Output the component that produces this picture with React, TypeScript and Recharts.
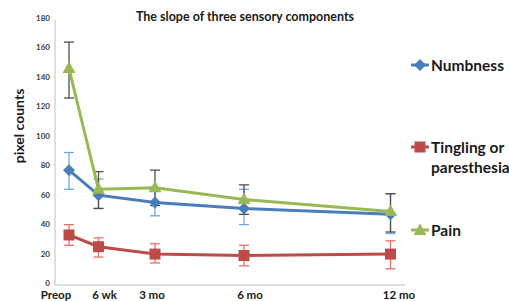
import React from 'react';
import { LineChart, Line, XAxis, YAxis, ErrorBar } from 'recharts';

const categories = ['Preop', '6 wk', '3 mo', '6 mo', '12 mo'];
// position of each time point along the (unevenly spaced) time axis
const timePos = [14, 43.5, 100, 189, 335.5];
// position of each category label along the time axis
const labelPos = [1, 49.5, 97, 195, 344];

const numbness = [78, 61, 56, 52, 48];
const numbnessLow = [65, 52, 47, 41, 35];
const numbnessHigh = [90, 72, 66, 65, 62];

const tingling = [34, 26, 21, 20, 21];
const tinglingLow = [27, 19, 15, 13, 11];
const tinglingHigh = [41, 32, 28, 27, 30];

const pain = [147, 65, 66, 58, 50];
const painLow = [127, 52, 54, 48, 36];
const painHigh = [165, 77, 78, 68, 62];

const yTicks = [0, 20, 40, 60, 80, 100, 120, 140, 160, 180];

const BLUE = '#4A7EBB';
const RED = '#BE4B48';
const GREEN = '#98B954';

const data = categories.map((c, i) => ({
  name: c,
  x: timePos[i],
  numb: numbness[i],
  numbErr: [numbness[i] - numbnessLow[i], numbnessHigh[i] - numbness[i]],
  ting: tingling[i],
  tingErr: [tingling[i] - tinglingLow[i], tinglingHigh[i] - tingling[i]],
  pain: pain[i],
  painErr: [pain[i] - painLow[i], painHigh[i] - pain[i]],
}));

const FONT = 'Lato, "Open Sans", sans-serif';

const Diamond = (props: any) => {
  const { cx, cy } = props;
  if (cx == null || cy == null) return null;
  const r = 6;
  return <polygon points={`${cx},${cy - r} ${cx + r},${cy} ${cx},${cy + r} ${cx - r},${cy}`} fill={BLUE} />;
};
const Square = (props: any) => {
  const { cx, cy } = props;
  if (cx == null || cy == null) return null;
  const r = 5.5;
  return <rect x={cx - r} y={cy - r} width={2 * r} height={2 * r} fill={RED} />;
};
const Triangle = (props: any) => {
  const { cx, cy } = props;
  if (cx == null || cy == null) return null;
  return <polygon points={`${cx},${cy - 7} ${cx + 6.5},${cy + 4.5} ${cx - 6.5},${cy + 4.5}`} fill={GREEN} />;
};

const XTick = (props: any) => {
  const { x, payload } = props;
  const idx = labelPos.indexOf(payload.value);
  return (
    <text x={x} y={298.5} textAnchor="middle" fontFamily={FONT} fontWeight={700} fontSize={11.5} fill="#1a1a1a">
      {idx >= 0 ? categories[idx] : ''}
    </text>
  );
};
const YTick = (props: any) => {
  const { y, payload } = props;
  return (
    <text x={50} y={y - 2} textAnchor="end" dominantBaseline="central" fontFamily={FONT} fontWeight={700} fontSize={8} fill="#404040">
      {payload.value}
    </text>
  );
};

const LegendItem = ({ top, color, shape, lines }: { top: number; color: string; shape: string; lines: string[] }) => (
  <div style={{ position: 'absolute', left: 410, top, display: 'flex', alignItems: 'flex-start' }}>
    <svg width={20} height={16} style={{ marginTop: 2 }}>
      <line x1={1} y1={8} x2={19} y2={8} stroke={color} strokeWidth={3} />
      {shape === 'diamond' && <polygon points="10,2 16,8 10,14 4,8" fill={color} />}
      {shape === 'square' && <rect x={4.5} y={2.5} width={11} height={11} fill={color} />}
      {shape === 'triangle' && <polygon points="10,1.5 16.5,13 3.5,13" fill={color} />}
    </svg>
    <div style={{ fontFamily: FONT, fontWeight: 700, fontSize: 15.5, lineHeight: '20px', color: '#1a1a1a', marginLeft: 1, whiteSpace: 'nowrap' }}>
      {lines.map((l) => (
        <div key={l}>{l}</div>
      ))}
    </div>
  </div>
);

export default function App() {
  return (
    <div style={{ position: 'absolute', left: 0, top: 0, width: 509, height: 301, background: '#fff', overflow: 'hidden' }}>
      <LineChart width={509} height={301} data={data} margin={{ top: 20, right: 104, left: 35, bottom: 0 }}>
        <XAxis
          type="number"
          dataKey="x"
          domain={[0, 350]}
          ticks={labelPos}
          tick={<XTick />}
          tickLine={false}
          axisLine={{ stroke: '#bfbfbf', strokeWidth: 1 }}
          height={16}
          interval={0}
        />
        <YAxis
          domain={[0, 180]}
          ticks={yTicks}
          tick={<YTick />}
          tickLine={false}
          axisLine={{ stroke: '#bfbfbf', strokeWidth: 1 }}
          width={20}
          interval={0}
        />
        <Line dataKey="numb" stroke={BLUE} strokeWidth={3} dot={<Diamond />} isAnimationActive={false}>
          <ErrorBar dataKey="numbErr" width={5} stroke="#6FA8DC" strokeWidth={1.3} direction="y" />
        </Line>
        <Line dataKey="ting" stroke={RED} strokeWidth={3} dot={<Square />} isAnimationActive={false}>
          <ErrorBar dataKey="tingErr" width={5} stroke="#E8706A" strokeWidth={1.3} direction="y" />
        </Line>
        <Line dataKey="pain" stroke={GREEN} strokeWidth={3} dot={<Triangle />} isAnimationActive={false}>
          <ErrorBar dataKey="painErr" width={5} stroke="#505050" strokeWidth={1.3} direction="y" />
        </Line>
      </LineChart>
      <div style={{ position: 'absolute', left: 0, width: 490, top: 9, textAlign: 'center', fontFamily: FONT, fontWeight: 700, fontSize: 12.5, color: '#1a1a1a' }}>
        The slope of three sensory components
      </div>
      <div
        style={{
          position: 'absolute',
          left: 18,
          top: 126,
          transform: 'translate(-50%, -50%) rotate(-90deg)',
          fontFamily: FONT,
          fontWeight: 700,
          fontSize: 14,
          color: '#1a1a1a',
          whiteSpace: 'nowrap',
        }}
      >
        pixel counts
      </div>
      <LegendItem top={55} color={BLUE} shape="diamond" lines={['Numbness']} />
      <LegendItem top={137} color={RED} shape="square" lines={['Tingling or', 'paresthesia']} />
      <LegendItem top={220} color={GREEN} shape="triangle" lines={['Pain']} />
    </div>
  );
}
